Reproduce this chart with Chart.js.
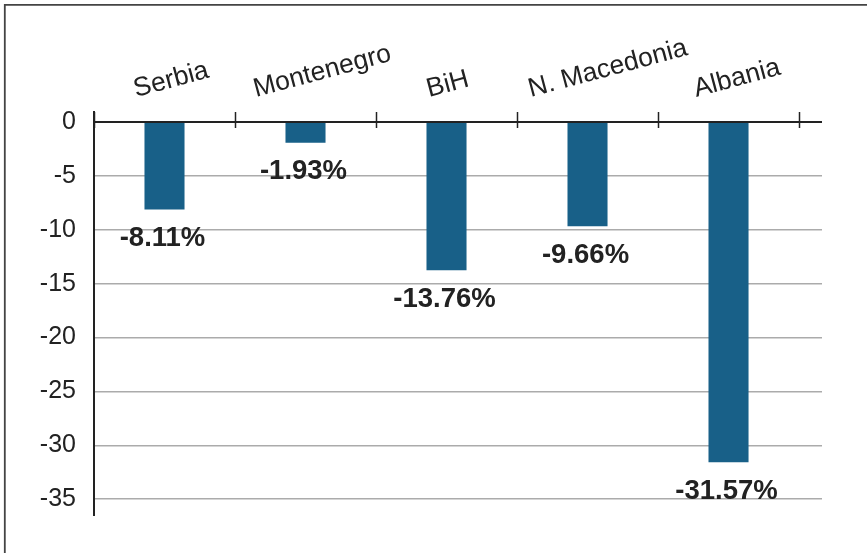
<!DOCTYPE html>
<html><head><meta charset="utf-8">
<style>html,body{margin:0;padding:0;background:#fff;} #wrap{position:relative;width:867px;height:553px;} canvas{display:block;}</style>
<script src="https://cdn.jsdelivr.net/npm/chart.js@4.4.1/dist/chart.umd.min.js"></script>
</head><body><div id="wrap"><canvas id="c" width="867" height="553"></canvas></div>
<script>
const categories = ['Serbia', 'Montenegro', 'BiH', 'N. Macedonia', 'Albania'];
const values = [-8.11, -1.93, -13.76, -9.66, -31.57];
const yTickValues = [0, -5, -10, -15, -20, -25, -30, -35];

const FONT = "'Liberation Sans', Arial, Helvetica, sans-serif";
const TEXT = '#222222';
const BAR = '#186088';

const framePlugin = {
  id: 'frame',
  beforeDraw(chart) {
    const ctx = chart.ctx;
    ctx.save();
    ctx.fillStyle = '#fff';
    ctx.fillRect(0, 0, chart.width, chart.height);
    ctx.strokeStyle = '#444';
    ctx.lineWidth = 1.8;
    ctx.beginPath();
    ctx.moveTo(4.8, chart.height);
    ctx.lineTo(4.8, 4.8);
    ctx.lineTo(chart.width, 4.8);
    ctx.stroke();
    ctx.restore();
  }
};

const axisPlugin = {
  id: 'catAxis',
  afterDraw(chart) {
    const ctx = chart.ctx;
    const xs = chart.scales.x, ys = chart.scales.y;
    const y0 = ys.getPixelForValue(0);
    ctx.save();
    ctx.strokeStyle = TEXT;
    ctx.lineWidth = 1.5;
    for (let i = 0; i <= categories.length; i++) {
      const x = Math.round(xs.getPixelForValue(i - 0.5)) + 0.5;
      ctx.beginPath();
      ctx.moveTo(x, y0 - 10);
      ctx.lineTo(x, y0 + 6);
      ctx.stroke();
    }
    ctx.font = '26.5px ' + FONT;
    ctx.fillStyle = TEXT;
    ctx.textAlign = 'left';
    ctx.textBaseline = 'alphabetic';
    const ang = 15 * Math.PI / 180;
    const yb = y0 - 25;
    categories.forEach((lab, i) => {
      const cx = xs.getPixelForValue(i);
      const w = ctx.measureText(lab).width;
      const sx = cx - 0.337 * w * Math.cos(ang) - 3.5;
      ctx.save();
      ctx.translate(sx, yb);
      ctx.rotate(-ang);
      ctx.fillText(lab, 0, 0);
      ctx.restore();
    });
    ctx.restore();
  }
};

const valueLabelPlugin = {
  id: 'valueLabels',
  afterDatasetsDraw(chart) {
    const ctx = chart.ctx;
    const meta = chart.getDatasetMeta(0);
    ctx.save();
    ctx.font = 'bold 27.5px ' + FONT;
    ctx.fillStyle = TEXT;
    ctx.textAlign = 'center';
    ctx.textBaseline = 'middle';
    meta.data.forEach((bar, i) => {
      ctx.fillText(values[i].toFixed(2) + '%', bar.x - 2, bar.y + 29);
    });
    ctx.restore();
  }
};

new Chart(document.getElementById('c'), {
  type: 'bar',
  data: {
    datasets: [{
      data: values.map((v, i) => ({ x: i, y: v })),
      backgroundColor: BAR,
      borderWidth: 0,
      categoryPercentage: 1,
      barPercentage: 0.284
    }]
  },
  options: {
    responsive: false,
    animation: false,
    layout: { padding: { top: 112, right: 45, bottom: 38, left: 0 } },
    plugins: { legend: { display: false }, tooltip: { enabled: false } },
    scales: {
      x: {
        type: 'linear',
        display: false,
        offset: false,
        min: -0.5,
        max: 4.663,
        afterBuildTicks(scale) { scale.ticks = categories.map((c, i) => ({ value: i })); },
        grid: { offset: false }
      },
      y: {
        type: 'linear',
        min: -36.46,
        max: 0.93,
        afterBuildTicks(scale) { scale.ticks = yTickValues.map(v => ({ value: v })); },
        afterFit(scale) { scale.width = 94; },
        ticks: {
          padding: 18,
          color: TEXT,
          font: { family: FONT, size: 25 },
          callback: v => String(v)
        },
        grid: {
          drawTicks: false,
          color: c => (c.tick && c.tick.value === 0) ? TEXT : '#ababab',
          lineWidth: c => (c.tick && c.tick.value === 0) ? 2 : 1.6
        },
        border: { display: true, color: TEXT, width: 2 }
      }
    }
  },
  plugins: [framePlugin, axisPlugin, valueLabelPlugin]
});
</script>
</body></html>
